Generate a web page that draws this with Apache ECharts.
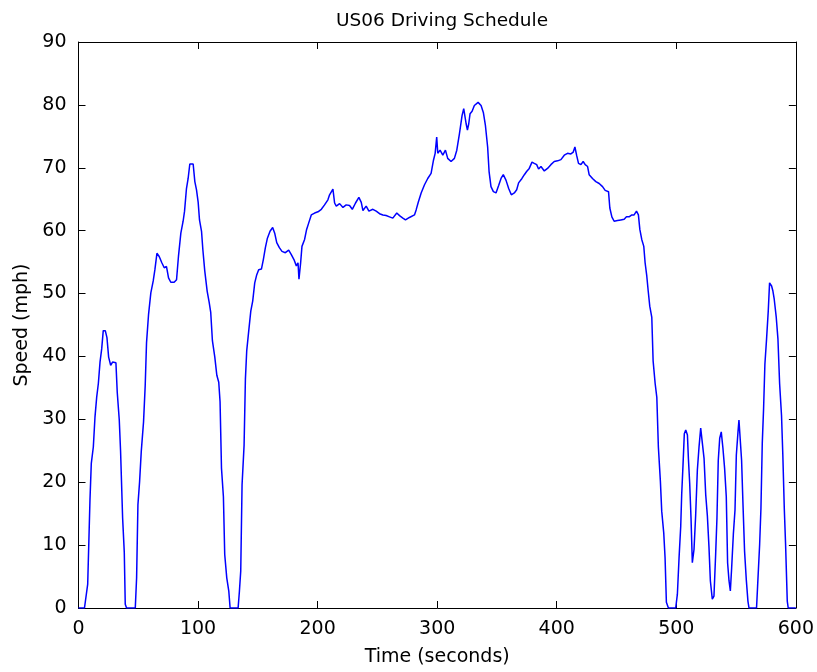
<!DOCTYPE html>
<html>
<head>
<meta charset="utf-8">
<title>US06 Driving Schedule</title>
<script src="https://cdn.jsdelivr.net/npm/echarts@6/dist/echarts.min.js"></script>
<style>
  html, body { margin: 0; padding: 0; background: #ffffff; }
  #chart { width: 817px; height: 672px; }
</style>
</head>
<body>
<div id="chart"></div>
<script>
// US06 speed trace: elapsed time (s) and vehicle speed (mph)
const timeSec = [
  0, 5, 7.7, 9.6, 10.7, 12.4, 13.8, 15.2, 16.6, 18.0, 19.4, 20.7, 22.4, 23.8, 25.2, 26.9, 28.5, 31.3, 32.4, 34.1,
  35.2, 36.9, 38.3, 39.1, 40.2, 47.5, 48.6, 49.7, 51.1, 52.5, 54.4, 55.8, 56.9, 58.6, 60.5, 62.5, 63.9, 65.6, 67.5, 69.7,
  71.7, 73.6, 75.3, 77.2, 80.0, 82.0, 83.6, 85.6, 87.5, 88.7, 90.3, 91.7, 93.1, 95.9, 97.3, 98.7, 100.1, 101.2, 102.9, 104.0,
  105.6, 107.6, 109.3, 110.6, 112.0, 114.0, 115.7, 117.3, 118.4, 119.6, 121.2, 122.3, 124.0, 125.7, 126.8, 133.5, 134.6, 135.7, 136.8, 138.5,
  139.6, 140.7, 142.4, 144.1, 145.7, 147.4, 149.1, 150.7, 153.0, 154.6, 156.3, 158.0, 160.2, 162.4, 164.1, 165.8, 168.0, 170.2, 173.0, 175.8,
  178.0, 180.2, 182.2, 183.6, 184.4, 185.8, 186.9, 189.1, 190.8, 192.5, 194.7, 197.5, 200.3, 203.1, 205.8, 208.6, 210.0, 212.8, 214.2, 215.6,
  218.4, 221.2, 223.9, 226.7, 229.0, 231.7, 234.5, 236.5, 237.9, 240.6, 242.9, 246.2, 249.0, 251.8, 254.6, 257.3, 260.1, 262.9, 266.2, 268.5,
  271.3, 273.5, 276.8, 281.0, 282.4, 284.3, 286.6, 289.4, 292.1, 294.9, 296.9, 298.3, 299.6, 300.5, 302.4, 304.7, 306.9, 308.8, 311.6, 314.4,
  316.4, 318.6, 320.8, 322.2, 324.2, 325.3, 326.4, 327.5, 329.2, 331.1, 334.2, 336.7, 338.6, 340.3, 342.2, 343.4, 345.0, 347.0, 349.2, 351.4,
  353.4, 355.3, 357.6, 359.8, 362.0, 364.5, 366.5, 368.1, 370.9, 372.9, 374.8, 377.0, 379.3, 381.2, 383.2, 384.8, 386.8, 389.6, 392.3, 395.1,
  397.9, 400.7, 403.5, 406.3, 409.0, 411.8, 413.8, 415.2, 416.6, 418.2, 420.2, 422.1, 423.8, 425.8, 427.1, 429.9, 432.7, 435.5, 438.3, 440.5,
  443.3, 444.4, 446.1, 448.0, 450.8, 453.6, 456.4, 458.3, 460.5, 462.8, 464.7, 466.7, 468.3, 469.5, 471.1, 472.8, 473.9, 475.3, 476.5, 477.8,
  479.5, 480.6, 482.3, 483.7, 485.0, 486.7, 487.8, 489.5, 490.6, 491.7, 493.4, 499.5, 500.9, 502.3, 503.7, 504.5, 505.6, 506.7, 507.9, 509.3,
  510.1, 511.2, 512.3, 513.4, 514.8, 516.2, 517.6, 519.0, 520.4, 521.8, 523.2, 524.6, 526.0, 527.3, 528.5, 530.1, 531.5, 532.9, 534.0, 535.1,
  536.3, 537.6, 539.0, 540.4, 541.8, 542.9, 544.1, 545.2, 546.3, 547.7, 549.1, 550.2, 551.6, 552.4, 553.8, 554.6, 555.7, 557.1, 558.5, 559.9,
  560.8, 567.1, 568.0, 569.7, 570.8, 571.9, 573.0, 574.1, 575.5, 576.9, 578.0, 579.7, 580.8, 581.9, 583.6, 585.0, 586.4, 588.0, 589.1, 590.3,
  591.4, 592.8, 593.6, 600
];
const speedMph = [
  0, 0, 3.8, 17.2, 23.0, 25.6, 30.4, 33.5, 35.7, 39.1, 41.2, 44.1, 44.1, 43.0, 39.9, 38.6, 39.1, 39.0, 34.3, 29.9,
  24.9, 14.3, 8.8, 0.6, 0, 0, 4.8, 16.4, 20.1, 24.9, 29.6, 35.4, 42.2, 46.7, 50.1, 52.0, 53.8, 56.4, 55.9, 54.9,
  54.1, 54.3, 52.5, 51.8, 51.8, 52.2, 55.9, 59.6, 61.5, 63.1, 66.7, 68.3, 70.6, 70.6, 67.8, 66.5, 64.5, 61.7, 59.9, 57.0,
  53.6, 50.4, 48.6, 47.0, 42.5, 39.9, 37.0, 35.9, 32.8, 22.2, 17.7, 8.5, 4.8, 2.7, 0, 0, 2.7, 5.9, 19.6, 25.9,
  36.4, 40.9, 44.1, 47.2, 48.8, 51.7, 53.0, 53.8, 53.9, 55.4, 57.3, 58.8, 59.9, 60.5, 59.6, 58.1, 57.3, 56.7, 56.5, 56.9,
  56.2, 55.4, 54.4, 54.9, 52.3, 54.9, 57.5, 58.6, 60.2, 61.2, 62.5, 62.8, 63.0, 63.4, 64.1, 64.9, 65.7, 66.6, 64.4, 63.9,
  64.3, 63.7, 64.1, 64.0, 63.4, 64.4, 65.3, 64.5, 63.2, 63.9, 63.1, 63.4, 63.1, 62.7, 62.5, 62.4, 62.2, 62.0, 62.8, 62.4,
  62.0, 61.7, 62.1, 62.5, 63.3, 64.6, 66.0, 67.3, 68.3, 69.1, 71.2, 72.3, 74.9, 72.3, 72.8, 72.0, 72.8, 71.5, 71.0, 71.5,
  72.8, 75.4, 78.3, 79.4, 77.0, 76.0, 77.0, 78.6, 79.0, 79.9, 80.4, 79.9, 78.8, 76.8, 73.3, 69.4, 67.0, 66.2, 66.0, 67.2,
  68.3, 68.9, 68.0, 66.7, 65.7, 66.0, 66.5, 67.6, 68.3, 68.9, 69.4, 69.9, 70.9, 70.7, 70.5, 69.8, 70.2, 69.5, 69.9, 70.5,
  71.0, 71.1, 71.3, 72.0, 72.3, 72.2, 72.5, 73.3, 72.0, 70.7, 70.5, 71.0, 70.5, 70.2, 68.9, 68.3, 67.8, 67.5, 67.0, 66.4,
  66.2, 63.6, 62.2, 61.5, 61.6, 61.7, 61.8, 62.2, 62.2, 62.5, 62.5, 63.1, 62.5, 60.2, 58.6, 57.5, 54.9, 52.8, 50.4, 48.0,
  46.2, 39.3, 35.7, 33.5, 25.6, 20.1, 15.4, 11.9, 8.0, 0.9, 0, 0, 2.2, 8.0, 13.0, 18.0, 22.7, 27.7, 28.3, 27.5,
  23.8, 19.8, 14.3, 7.2, 9.3, 14.8, 21.9, 25.6, 28.6, 28.3, 23.8, 18.0, 14.6, 9.8, 4.3, 1.4, 1.9, 8.5, 14.3, 23.5,
  27.0, 28.0, 25.4, 22.2, 17.7, 7.2, 4.3, 2.7, 6.4, 11.7, 15.6, 24.3, 28.0, 29.9, 29.9, 23.5, 16.9, 9.0, 4.6, 1.1,
  0, 0, 3.5, 10.1, 15.9, 26.2, 31.7, 38.8, 42.8, 47.2, 51.7, 51.2, 50.4, 49.1, 46.2, 42.8, 35.7, 30.6, 24.3, 15.9,
  10.1, 1.1, 0, 0
];

// Axis ranges and tick steps
const timeRange = [0, 600, 100];
const speedRange = [0, 90, 10];

const FONT = 'DejaVu Sans';
const INK = '#000000';

const points = timeSec.map((t, i) => [t, speedMph[i]]);

function frameAxis(position, range, showLabels) {
  return {
    type: 'value',
    position: position,
    min: range[0],
    max: range[1],
    interval: range[2],
    axisLine: { show: true, onZero: false, lineStyle: { color: INK, width: 1 } },
    axisTick: { show: true, inside: true, length: 7, lineStyle: { color: INK, width: 1 } },
    axisLabel: showLabels
      ? { show: true, color: INK, fontFamily: FONT, fontSize: 19 }
      : { show: false },
    splitLine: { show: false }
  };
}

const chart = echarts.init(document.getElementById('chart'), null, { renderer: 'canvas' });

const xBottom = Object.assign(frameAxis('bottom', timeRange, true), {
  name: 'Time (seconds)',
  nameLocation: 'middle',
  nameGap: 40,
  nameTextStyle: { color: INK, fontFamily: FONT, fontSize: 19 }
});
xBottom.axisLabel.margin = 12;

const yLeft = Object.assign(frameAxis('left', speedRange, true), {
  name: 'Speed (mph)',
  nameLocation: 'middle',
  nameGap: 45,
  nameTextStyle: { color: INK, fontFamily: FONT, fontSize: 19 }
});
yLeft.axisLabel.margin = 12;

chart.setOption({
  animation: false,
  backgroundColor: '#ffffff',
  title: {
    text: 'US06 Driving Schedule',
    left: 437,
    textAlign: 'center',
    top: 7,
    textStyle: { color: INK, fontFamily: FONT, fontSize: 18.5, fontWeight: 'normal' }
  },
  grid: { left: 78.5, right: 20, top: 42, bottom: 61.5, containLabel: false },
  xAxis: [xBottom, frameAxis('top', timeRange, false)],
  yAxis: [yLeft, frameAxis('right', speedRange, false)],
  series: [{
    type: 'line',
    xAxisIndex: 0,
    yAxisIndex: 0,
    data: points,
    showSymbol: false,
    smooth: false,
    lineStyle: { color: '#0000ff', width: 1.5 },
    itemStyle: { color: '#0000ff' }
  }]
});
</script>
</body>
</html>
